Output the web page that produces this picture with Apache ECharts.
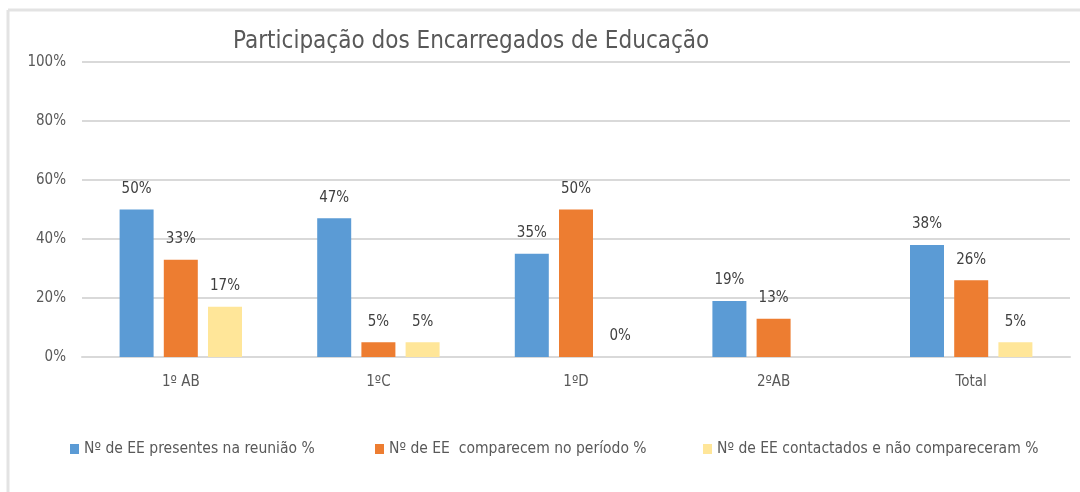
<!DOCTYPE html>
<html>
<head>
<meta charset="utf-8">
<style>
  html, body { margin: 0; padding: 0; background: #ffffff; }
  #chart { width: 1080px; height: 492px; }
</style>
<script src="https://cdn.jsdelivr.net/npm/echarts@6/dist/echarts.min.js"></script>
</head>
<body>
<div id="chart"></div>
<script>
// Categories (turmas) and the three percentage series
const categories = ['1º AB', '1ºC', '1ºD', '2ºAB', 'Total'];
const seriesNames = [
  'Nº de EE presentes na reunião %',
  'Nº de EE  comparecem no período %',
  'Nº de EE contactados e não compareceram %'
];
const presentes = [50, 47, 35, 19, 38];
const comparecem = [33, 5, 50, 13, 26];
const naoCompareceram = [17, 5, 0, null, 5];
const yTicks = [0, 20, 40, 60, 80, 100];

const colors = ['#5B9BD5', '#ED7D31', '#FFE699'];
const FONT = '"Liberation Sans Narrow", "DejaVu Sans Condensed", sans-serif';

const chart = echarts.init(document.getElementById('chart'));

function barSeries(name, data, color) {
  return {
    name: name,
    type: 'bar',
    data: data,
    barWidth: 34,
    barGap: '30%',
    itemStyle: { color: color },
    label: {
      show: true,
      position: 'top',
      distance: 13,
      formatter: p => (p.value == null ? '' : p.value + '%'),
      color: '#404040',
      fontFamily: FONT,
      fontSize: 15
    }
  };
}

// one legend block per series, placed side by side along the bottom
const legendLefts = [65, 370, 698];
const legends = seriesNames.map((name, i) => ({
  data: [name],
  left: legendLefts[i],
  top: 436,
  itemWidth: 9,
  itemHeight: 10,
  itemGap: 0,
  icon: 'rect',
  selectedMode: false,
  textStyle: { fontFamily: FONT, fontSize: 15.5, color: '#595959' }
}));

chart.setOption({
  animation: false,
  backgroundColor: '#ffffff',
  title: {
    text: 'Participação dos Encarregados de Educação',
    left: 228,
    top: 25,
    textStyle: { fontFamily: FONT, fontWeight: 'normal', fontSize: 24, color: '#595959' }
  },
  legend: legends,
  grid: { left: 82, right: 10, top: 62, bottom: 135, containLabel: false },
  xAxis: {
    type: 'category',
    data: categories,
    axisTick: { show: false },
    axisLine: { lineStyle: { color: '#d9d9d9', width: 2 } },
    axisLabel: { fontFamily: FONT, fontSize: 15, color: '#595959', margin: 18 }
  },
  yAxis: {
    type: 'value',
    min: yTicks[0],
    max: yTicks[yTicks.length - 1],
    interval: 20,
    axisLabel: { fontFamily: FONT, fontSize: 15, color: '#595959', margin: 16, formatter: v => v + '%' },
    splitLine: { lineStyle: { color: '#d9d9d9', width: 2 } },
    axisLine: { show: false },
    axisTick: { show: false }
  },
  graphic: [
    { type: 'line', shape: { x1: 8, y1: 10, x2: 1100, y2: 10 }, style: { stroke: '#e3e3e3', lineWidth: 3 } },
    { type: 'line', shape: { x1: 8, y1: 10, x2: 8, y2: 500 }, style: { stroke: '#e3e3e3', lineWidth: 3 } }
  ],
  series: [
    barSeries(seriesNames[0], presentes, colors[0]),
    barSeries(seriesNames[1], comparecem, colors[1]),
    barSeries(seriesNames[2], naoCompareceram, colors[2])
  ]
});
</script>
</body>
</html>
